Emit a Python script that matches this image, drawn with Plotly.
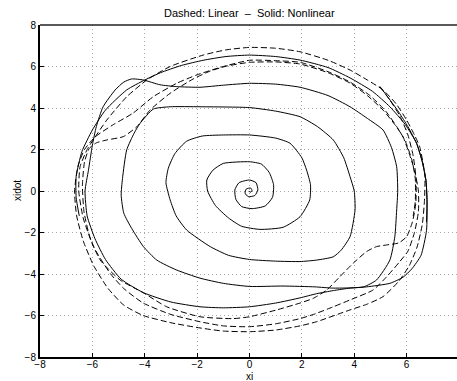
import plotly.graph_objects as go

# ---------------- data ----------------
# Nonlinear response (solid): main trajectory, spirals inward clockwise
nl_x = [4.98, 5.3, 5.7, 6.05, 6.38, 6.6, 6.74, 6.78, 6.76, 6.55, 6.2, 5.87, 5.36, 4.47, 3.84, 3.2, 2.56, 1.93, 1.0, 0.0,
        -1.0, -1.89, -3.0, -4.05, -4.9, -5.5, -5.9, -6.2, -6.28, -6.15, -6.0, -5.85, -5.59, -5.13, -4.8, -4.5, -4.05, -3.42, -2.78, -1.89,
        -1.0, 0.0, 1.0, 1.93, 3.0, 3.84, 4.5, 5.1, 5.42, 5.62, 5.66, 5.62, 5.55, 5.36, 4.85, 4.35, 3.2, 2.5, 1.28, 0.0,
        -1.0, -1.89, -2.8, -3.54, -4.05, -4.5, -4.8, -4.9, -4.85, -4.69, -4.4, -4.18, -3.67, -3.03, -1.89, 0.0, 1.0, 1.93, 2.6, 3.2,
        3.6, 3.84, 4.0, 4.03, 3.84, 3.5, 3.2, 2.56, 1.93, 1.0, 0.0, -0.8, -1.5, -2.4, -2.8, -3.03, -3.19, -3.1, -2.85, -2.4,
        -1.8, -1.0, 0.0, 1.0, 1.55, 2.0, 2.18, 2.33, 2.3, 1.93, 1.28, 0.4, -0.3, -0.8, -1.3, -1.6, -1.63, -1.4, -1.0, 0.0,
        0.45, 0.75, 0.92, 0.88, 0.6, 0.1, -0.3, -0.52, -0.56, -0.4, 0.0, 0.25, 0.32, 0.2, -0.05, -0.17, -0.12, 0.05, 0.1, 0.02, 0.0]
nl_y = [5.03, 4.5, 3.8, 3.1, 2.3, 1.4, 0.5, -0.5, -1.9, -3.1, -3.75, -4.15, -4.45, -4.62, -4.68, -4.8, -4.95, -5.15, -5.4, -5.58,
        -5.63, -5.58, -5.35, -4.9, -4.25, -3.3, -2.3, -1.2, 0.0, 1.0, 2.2, 3.1, 4.06, 4.87, 5.25, 5.4, 5.35, 5.12, 5.03, 5.0,
        5.1, 5.19, 5.15, 5.0, 4.6, 4.06, 3.5, 2.94, 2.1, 1.17, 0.0, -0.92, -2.2, -3.33, -4.29, -4.62, -4.68, -4.62, -4.58, -4.6,
        -4.45, -4.2, -3.8, -3.33, -2.68, -1.8, -1.07, -0.2, 0.6, 1.98, 2.8, 3.26, 3.95, 4.06, 4.06, 4.02, 3.85, 3.58, 3.1, 2.46,
        1.6, 0.69, 0.0, -0.92, -2.2, -2.85, -3.17, -3.33, -3.4, -3.38, -3.3, -3.1, -2.68, -1.88, -1.2, -0.43, 0.4, 1.1, 1.8, 2.4,
        2.65, 2.7, 2.7, 2.55, 2.3, 1.6, 1.01, 0.3, -0.43, -1.24, -1.75, -1.85, -1.7, -1.3, -0.7, 0.0, 0.53, 1.0, 1.33, 1.41,
        1.3, 0.9, 0.3, -0.3, -0.72, -0.85, -0.75, -0.4, 0.05, 0.4, 0.53, 0.4, 0.05, -0.22, -0.27, -0.1, 0.1, 0.14, 0.0, -0.06, 0.0]

# Nonlinear response (solid): outer arc
nl2_x = [-6.5, -6.62, -6.62, -6.4, -6.0, -5.5, -4.69, -4.0, -3.4, -2.6, -1.77, -0.9, 0.0, 1.0, 1.93, 3.0, 3.84, 4.7, 5.36,
         5.95, 6.38, 6.6, 6.74, 6.78, 6.76]
nl2_y = [-1.2, -0.3, 0.69, 1.9, 2.94, 3.9, 4.87, 5.35, 5.7, 6.05, 6.3, 6.48, 6.55, 6.48, 6.31, 5.95, 5.45, 4.8, 4.06,
         3.2, 2.3, 1.4, 0.5, -0.5, -1.5]

# Linear response (dashed)
lin_x = [4.98, 5.35, 5.75, 6.05, 6.25, 6.36, 6.35, 6.22, 6.0, 5.7, 5.24, 4.85, 4.47, 3.96, 3.45, 2.95, 2.44, 1.93, 1.04, 0.0,
         -0.63, -1.89, -3.16, -4.06, -4.94, -5.7, -6.1, -6.32, -6.38, -6.3, -6.12, -5.85, -5.45, -4.82, -4.3, -3.8, -3.03, -2.15, -1.5, -0.87,
         0.0, 1.0, 1.93, 3.0, 3.84, 4.5, 5.1, 5.55, 5.86, 6.1, 6.3, 6.45,
         6.45, 6.3, 6.05, 5.74, 5.24, 4.72, 3.84, 3.2, 2.44, 1.93, 1.0, 0.0, -1.0, -1.89, -3.0, -4.06, -4.8, -5.32,
         -5.95, -6.35, -6.52, -6.47, -6.2, -5.97, -5.45, -4.69, -3.92, -3.03, -1.77, -0.9, 0.0, 1.0, 1.93, 3.0, 3.84, 4.5,
         5.1, 5.6, 6.0, 6.3, 6.5, 6.62, 6.7, 6.68,
         6.6, 6.4, 6.1, 5.7, 5.1, 4.5, 3.84, 2.56, 1.93, 1.0, 0.0, -1.0, -1.89, -3.0, -4.06, -4.8, -5.4, -5.95, -6.35, -6.6,
         -6.68, -6.55, -6.3, -5.9, -5.2, -4.45, -3.68, -2.78, -2.0, -1.0, 0.0, 1.0, 1.93, 3.0, 3.84, 4.6, 5.2, 5.65, 5.95, 6.2,
         6.33, 6.33, 6.25]
lin_y = [5.03, 4.4, 3.6, 2.7, 1.7, 0.6, -0.6, -1.5, -2.2, -2.5, -2.6, -2.68, -2.92, -3.48, -4.13, -4.77, -5.17, -5.4, -5.73, -6.06,
         -6.15, -6.06, -5.58, -4.9, -4.29, -3.33, -2.2, -1.0, 0.3, 1.4, 2.05, 2.32, 2.46, 2.62, 3.1, 3.9, 4.71, 5.4, 5.78, 6.02,
         6.2, 6.22, 6.12, 5.7, 5.2, 4.6, 3.9, 3.2, 2.62, 1.8, 1.0, 0.0,
         -1.0, -2.0, -2.9, -3.4, -4.13, -4.77, -5.25, -5.58, -5.95, -6.15, -6.4, -6.54, -6.5, -6.3, -5.95, -5.4, -4.7, -3.97,
         -2.7, -1.3, 0.0, 1.17, 2.0, 2.46, 3.42, 4.54, 5.35, 6.0, 6.55, 6.8, 6.92, 6.88, 6.71, 6.3, 5.83, 5.35,
         4.87, 4.2, 3.42, 2.7, 2.13, 1.4, 0.69, -0.5,
         -1.6, -2.7, -3.6, -4.35, -5.09, -5.45, -5.73, -6.3, -6.5, -6.7, -6.78, -6.75, -6.6, -6.35, -6.0, -5.5, -4.7, -3.6, -2.4, -1.2,
         0.0, 1.2, 2.0, 2.6, 3.2, 3.75, 4.54, 5.19, 5.6, 6.0, 6.3, 6.28, 6.2, 5.75, 5.25, 4.6, 3.85, 3.05, 2.4, 1.5,
         0.6, -0.5, -1.2]

tick_vals = [-8, -6, -4, -2, 0, 2, 4, 6, 8]
title_text = "Dashed: Linear\u00a0\u00a0\u2013\u00a0\u00a0Solid: Nonlinear"
x_label = "xi"
y_label = "xidot"

# ---------------- figure ----------------
FONT = "Liberation Sans, Arial, Helvetica, sans-serif"
fig = go.Figure()

fig.add_trace(go.Scatter(x=lin_x, y=lin_y, mode="lines",
                         line=dict(color="black", width=1, dash="6px,3px", shape="spline", smoothing=0.55),
                         showlegend=False, hoverinfo="skip"))
fig.add_trace(go.Scatter(x=nl2_x, y=nl2_y, mode="lines",
                         line=dict(color="black", width=1, shape="spline", smoothing=0.55),
                         showlegend=False, hoverinfo="skip"))
fig.add_trace(go.Scatter(x=nl_x, y=nl_y, mode="lines",
                         line=dict(color="black", width=1, shape="spline", smoothing=0.55),
                         showlegend=False, hoverinfo="skip"))

axis_common = dict(
    tickvals=tick_vals,
    ticktext=[str(v).replace("-", "\u2212") for v in tick_vals],
    ticks="inside", ticklen=4, tickwidth=1, tickcolor="black",
    showgrid=True, gridcolor="#a8a8a8", gridwidth=1, griddash="1px,3px",
    zeroline=False, showline=True, linecolor="black", linewidth=2,
    tickfont=dict(family=FONT, size=10, color="black"),
)

fig.update_xaxes(range=[-8, 7.924], ticklabelstandoff=-3, **axis_common)
fig.update_yaxes(range=[-8, 8], **axis_common)

fig.update_layout(
    width=457, height=381,
    margin=dict(l=40, r=0, t=25, b=24),
    paper_bgcolor="white", plot_bgcolor="white",
    font=dict(family=FONT, size=10, color="black"),
    shapes=[dict(type="line", xref="paper", yref="paper", x0=0, x1=1, y0=1, y1=1,
                 line=dict(color="#222222", width=1.5))],
    annotations=[
        dict(text=title_text, xref="paper", yref="paper", x=0.502, y=1.036,
             xanchor="center", yanchor="middle", showarrow=False,
             font=dict(family=FONT, size=11, color="black")),
        dict(text=x_label, xref="paper", yref="paper", x=0.502, y=-0.0575,
             xanchor="center", yanchor="middle", showarrow=False,
             font=dict(family=FONT, size=10, color="black")),
        dict(text=y_label, xref="paper", yref="paper", x=-0.055, y=0.5,
             xanchor="center", yanchor="middle", showarrow=False, textangle=-90,
             font=dict(family=FONT, size=10, color="black")),
    ],
)

fig.write_html("out.html")
